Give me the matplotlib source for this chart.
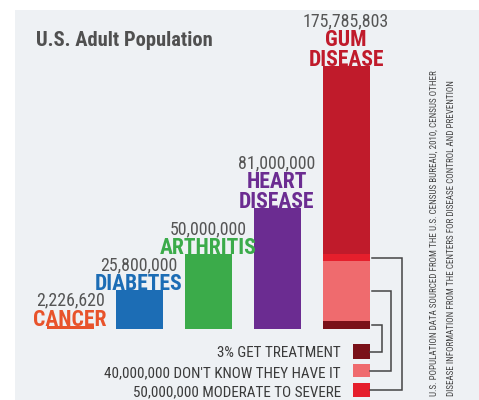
import matplotlib
matplotlib.use('Agg')
import matplotlib.pyplot as plt
from matplotlib import font_manager
from matplotlib.patches import Rectangle

# ---------------- data ----------------
title = "U.S. Adult Population"
categories = ["CANCER", "DIABETES", "ARTHRITIS", "HEART\nDISEASE", "GUM\nDISEASE"]
value_labels = ["2,226,620", "25,800,000", "50,000,000", "81,000,000", "175,785,803"]
values_m = [2.22662, 25.8, 50.0, 81.0, 175.785803]
bar_colors = ["#e8532b", "#1c6db5", "#3bab4a", "#6b2c91", "#c01b2b"]

gum_moderate_severe_m = 50.0
gum_dont_know_m = 40.0
gum_treatment_m = 0.03 * 175.785803
breakdown_labels = ["3% GET TREATMENT",
                    "40,000,000 DON'T KNOW THEY HAVE IT",
                    "50,000,000 MODERATE TO SEVERE"]
breakdown_colors = ["#7a1119", "#ef6b6e", "#e51f2c"]

source_lines = ["U.S. POPULATION DATA SOURCED FROM THE U.S. CENSUS BUREAU, 2010, CENSUS OTHER",
                "DISEASE INFORMATION FROM THE CENTERS FOR DISEASE CONTROL AND PREVENTION"]

# ---------------- fonts: pick the narrowest available ----------------
entries = font_manager.fontManager.ttflist
names = {f.name for f in entries}
FAM, STRETCH = None, 'normal'
for cand in ['Liberation Sans Narrow', 'Roboto Condensed', 'Open Sans Condensed',
             'Noto Sans ExtraCondensed', 'Noto Sans Condensed', 'DejaVu Sans Condensed',
             'Noto Sans SemiCondensed']:
    if cand in names:
        FAM = [cand, 'DejaVu Sans']
        break
if FAM is None:
    def _st(f):
        s = f.stretch
        if isinstance(s, str):
            return font_manager.stretch_dict.get(s, 500)
        return s
    condensed = [f for f in entries if _st(f) <= 300]
    pref = [f for f in condensed if f.name in ('Noto Sans', 'Roboto', 'Open Sans', 'DejaVu Sans')]
    if pref or condensed:
        pick = (pref or condensed)[0]
        FAM = [pick.name, 'DejaVu Sans']
        STRETCH = 'condensed' if _st(pick) >= 300 else 'extra-condensed'
    elif 'Roboto' in names:
        FAM = ['Roboto', 'DejaVu Sans']
    else:
        FAM = ['DejaVu Sans']

# ---------------- layout ----------------
W, H = 479, 400
fig = plt.figure(figsize=(W / 100, H / 100), dpi=100)
fig.patch.set_facecolor('white')
renderer = fig.canvas.get_renderer()


def fit(t, target_w):
    w = t.get_window_extent(renderer).width
    t.set_fontsize(t.get_fontsize() * target_w / w)
    return t.get_fontsize()


pix = fig.add_axes([0, 0, 1, 1], zorder=0)
pix.set_xlim(0, W)
pix.set_ylim(H, 0)
pix.axis('off')
pix.add_patch(Rectangle((15, 10), W - 15, H - 10, facecolor='#eef1f4', edgecolor='none'))

ax = fig.add_axes([0, 0, 1, 1], zorder=1)
ax.patch.set_alpha(0)
ax.axis('off')
base_y, px_per_m, x0, dx = 329, 1.496, 70, 69
ax.set_xlim(-x0 / dx, (W - x0) / dx)
ax.set_ylim(-(H - base_y) / px_per_m, base_y / px_per_m)

xs = list(range(len(categories)))
bw = 47 / dx
ax.bar(xs, values_m, width=bw, color=bar_colors, zorder=2)

# gum disease breakdown (nested)
g = xs[-1]
ax.bar(g, gum_moderate_severe_m, width=bw, color=breakdown_colors[2], zorder=3)
ax.bar(g, gum_dont_know_m, bottom=gum_treatment_m, width=bw, color=breakdown_colors[1], zorder=4)
ax.bar(g, gum_treatment_m, width=bw, color=breakdown_colors[0], zorder=5)

# font sizes fitted to reference widths (slightly enlarged to compensate for
# the lack of a condensed face)
probe = fig.text(0, 0, "DISEASE", fontsize=14, fontweight='bold', family=FAM, fontstretch=STRETCH)
cat_fs = fit(probe, 76)
probe.set_text("175,785,803"); probe.set_fontweight('normal'); probe.set_fontsize(12)
val_fs = fit(probe, 86)
probe.set_text(breakdown_labels[1]); probe.set_fontsize(11)
leg_fs = fit(probe, 236)
probe.set_text(title); probe.set_fontweight('bold'); probe.set_fontsize(14)
title_fs = fit(probe, 178)
probe.set_text(source_lines[0]); probe.set_fontweight('normal'); probe.set_fontsize(6)
src_fs = fit(probe, 327)
probe.remove()

cap_px = cat_fs * 100 / 72 * 0.71
pitch = cap_px + 4.5

# labels
for i, (cat, val, col, vl) in enumerate(zip(categories, values_m, bar_colors, value_labels)):
    lines = cat.split("\n")
    for j, line in enumerate(reversed(lines)):
        ax.annotate(line, (i, val), xytext=(0, 0 + j * pitch), textcoords='offset pixels',
                    ha='center', va='baseline', fontsize=cat_fs, fontweight='bold',
                    color=col, family=FAM, fontstretch=STRETCH, zorder=10)
    ax.annotate(vl, (i, val), xytext=(0, (len(lines) - 1) * pitch + cap_px + 4.5),
                textcoords='offset pixels', ha='center', va='baseline', fontsize=val_fs,
                color='#555555', family=FAM, fontstretch=STRETCH, zorder=10)

# title
pix.text(36, 46, title, ha='left', va='baseline', fontsize=title_fs, fontweight='bold',
         color='#505050', family=FAM, fontstretch=STRETCH)

# legend for breakdown
seg_mid = [gum_treatment_m / 2,
           gum_treatment_m + gum_dont_know_m / 2,
           (gum_treatment_m + gum_dont_know_m + gum_moderate_severe_m) / 2]
leg_top = [344, 364, 383]
leg_h = [15, 13, 14]
txt_base = [357, 377, 396]
elbow_x = [382, 391, 402]
to_pix = pix.transData.inverted()
for k in range(3):
    pix.add_patch(Rectangle((353, leg_top[k]), 17, leg_h[k], facecolor=breakdown_colors[k],
                            edgecolor='none'))
    pix.text(341, txt_base[k], breakdown_labels[k], ha='right', va='baseline', fontsize=leg_fs,
             color='#3a3a3a', family=FAM, fontstretch=STRETCH)
    sx, sy = to_pix.transform(ax.transData.transform((g + bw / 2, seg_mid[k])))
    ly = leg_top[k] + leg_h[k] / 2
    pix.plot([sx + 3, elbow_x[k], elbow_x[k], 370], [sy, sy, ly, ly], color='#444444', lw=1.1,
             solid_joinstyle='miter')

# source text
for xpos, line in zip([434, 452], source_lines):
    pix.text(xpos, 396, line, rotation=90, ha='center', va='bottom', fontsize=src_fs,
             color='#444444', family=FAM, fontstretch=STRETCH)

fig.savefig('out.png', dpi=100, facecolor='white')
